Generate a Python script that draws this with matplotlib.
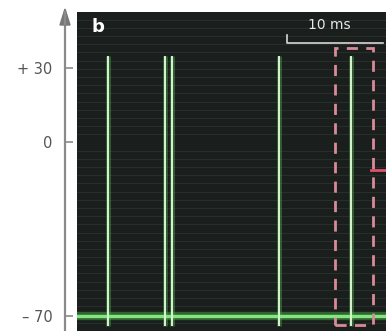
import matplotlib
matplotlib.use("Agg")
import matplotlib.pyplot as plt
import matplotlib.ticker as ticker
from matplotlib.patches import Rectangle

# spike train (ms, mV)
spike_times = [3.2, 9.2, 9.9, 21.0, 28.6]
v_rest = -70
v_peak = 35
v_under = -74
v_marker = -11
box_t = [26.9, 30.8]
box_v = [-73.6, 38]
scale_t = [21.9, 31.9]
scale_v = 40
y_ticks = [30, 0, -70]
y_labels = ["+ 30", "0", "\u2013 70"]

fig = plt.figure(figsize=(3.86, 3.31), dpi=100)
ax = fig.add_axes([77 / 386, 0, 309 / 386, 319 / 331])
ax.set_facecolor("#1a1e1c")

ax.set_xlim(0, 32.2)
ax.set_ylim(-76, 52.6)

# faint scan lines
ax.yaxis.set_minor_locator(ticker.MultipleLocator(3.3))
ax.grid(which="minor", axis="y", color="#35453a", lw=0.8, alpha=0.45)
ax.tick_params(which="minor", length=0)

# baseline + spikes
ax.axhline(v_rest, color="#3fa040", lw=6, alpha=0.55, zorder=2)
ax.axhline(v_rest, color="#86e582", lw=2.4, zorder=3)
ax.vlines(spike_times, v_under, v_peak, color="#4a9a4a", lw=3.5, alpha=0.5, zorder=2)
ax.vlines(spike_times, v_under, v_peak, color="#d8f5d0", lw=1.4, zorder=4)

# highlighted spike
ax.add_patch(Rectangle((box_t[0], box_v[0]), box_t[1] - box_t[0], box_v[1] - box_v[0],
                       fill=False, edgecolor="#d88a98", lw=2, ls=(0, (4, 3)), zorder=5))
ax.plot([30.6, 32.2], [v_marker, v_marker], color="#e0506a", lw=2, zorder=5, clip_on=False)

# 10 ms scale bar
ax.plot([scale_t[0], scale_t[0], scale_t[1]], [scale_v + 3.2, scale_v, scale_v],
        color="#d8d8d8", lw=1.2, zorder=6, clip_on=False)
ax.text((scale_t[0] + scale_t[1]) / 2 - 0.6, scale_v + 4.5, "10 ms", color="#e8e8e8",
        fontsize=10, ha="center", va="bottom", zorder=6)

ax.text(1.5, 50, "b", color="white", fontsize=13, fontweight="bold",
        ha="left", va="top", zorder=6)

# y axis with arrow
for s in ["top", "right", "bottom"]:
    ax.spines[s].set_visible(False)
ax.spines["left"].set_position(("outward", 8.6))
ax.spines["left"].set_color("#8a8a8a")
ax.spines["left"].set_linewidth(1.6)
ax.set_xticks([])
ax.set_yticks(y_ticks)
ax.set_yticklabels(y_labels)
ax.tick_params(axis="y", which="major", direction="in", length=5.5, width=1.2,
               color="#8a8a8a", labelcolor="#555555", labelsize=10.5, pad=9)
fig.patches.append(plt.Polygon([[60 / 386, 1 - 25 / 331], [70 / 386, 1 - 25 / 331],
                                [65 / 386, 1 - 9 / 331]], closed=True,
                               transform=fig.transFigure, color="#777777"))
fig.add_artist(plt.Line2D([65 / 386, 65 / 386], [1 - 12 / 331, 1 - 24 / 331],
                          color="#8a8a8a", lw=1.6))

fig.savefig("out.png", dpi=100)
